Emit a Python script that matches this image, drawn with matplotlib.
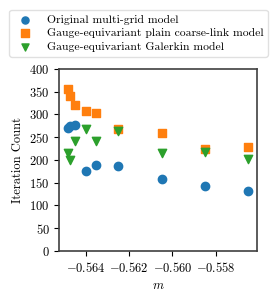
import matplotlib
matplotlib.use("Agg")
import matplotlib.pyplot as plt

plt.rcParams['font.family'] = 'serif'
plt.rcParams['font.serif'] = ['cmr10']
plt.rcParams['mathtext.fontset'] = 'cm'
plt.rcParams['axes.formatter.use_mathtext'] = True
plt.rcParams['font.size'] = 9

# mass parameter values
m = [-0.5648, -0.5647, -0.5645, -0.5640, -0.5635, -0.5625, -0.5605, -0.5585, -0.5565]

# iteration counts per model
original = [270, 275, 277, 176, 189, 186, 159, 143, 131]
plain_coarse = [355, 341, 320, 308, 303, 267, 259, 225, 228]
galerkin = [216, 200, 241, 267, 241, 264, 216, 217, 203]

labels = ["Original multi-grid model",
          "Gauge-equivariant plain coarse-link model",
          "Gauge-equivariant Galerkin model"]

fig = plt.figure(figsize=(2.77, 3.0), dpi=100)
ax = fig.add_axes([0.214, 0.164, 0.715, 0.606])

ax.scatter(m, original, marker='o', color='#1f77b4', s=36, label=labels[0], zorder=2)
ax.scatter(m, plain_coarse, marker='s', color='#ff7f0e', s=36, label=labels[1], zorder=2)
ax.scatter(m, galerkin, marker='v', color='#2ca02c', s=36, label=labels[2], zorder=3)

ax.set_ylim(0, 400)
ax.set_xticks([-0.564, -0.562, -0.560, -0.558])
ax.set_yticks(range(0, 401, 50))
ax.set_xlabel('$m$')
ax.set_ylabel('Iteration Count')

for sp in ax.spines.values():
    sp.set_color('0.25')
    sp.set_linewidth(1.2)

fig.legend(loc='upper center', bbox_to_anchor=(0.5, 0.967), ncol=1,
           frameon=True, edgecolor='0.85', fontsize=8.4, handlelength=1.9,
           handletextpad=0.9, borderpad=0.4, borderaxespad=0,
           labelspacing=0.3, markerscale=0.85)

plt.savefig('out.png', dpi=100)
